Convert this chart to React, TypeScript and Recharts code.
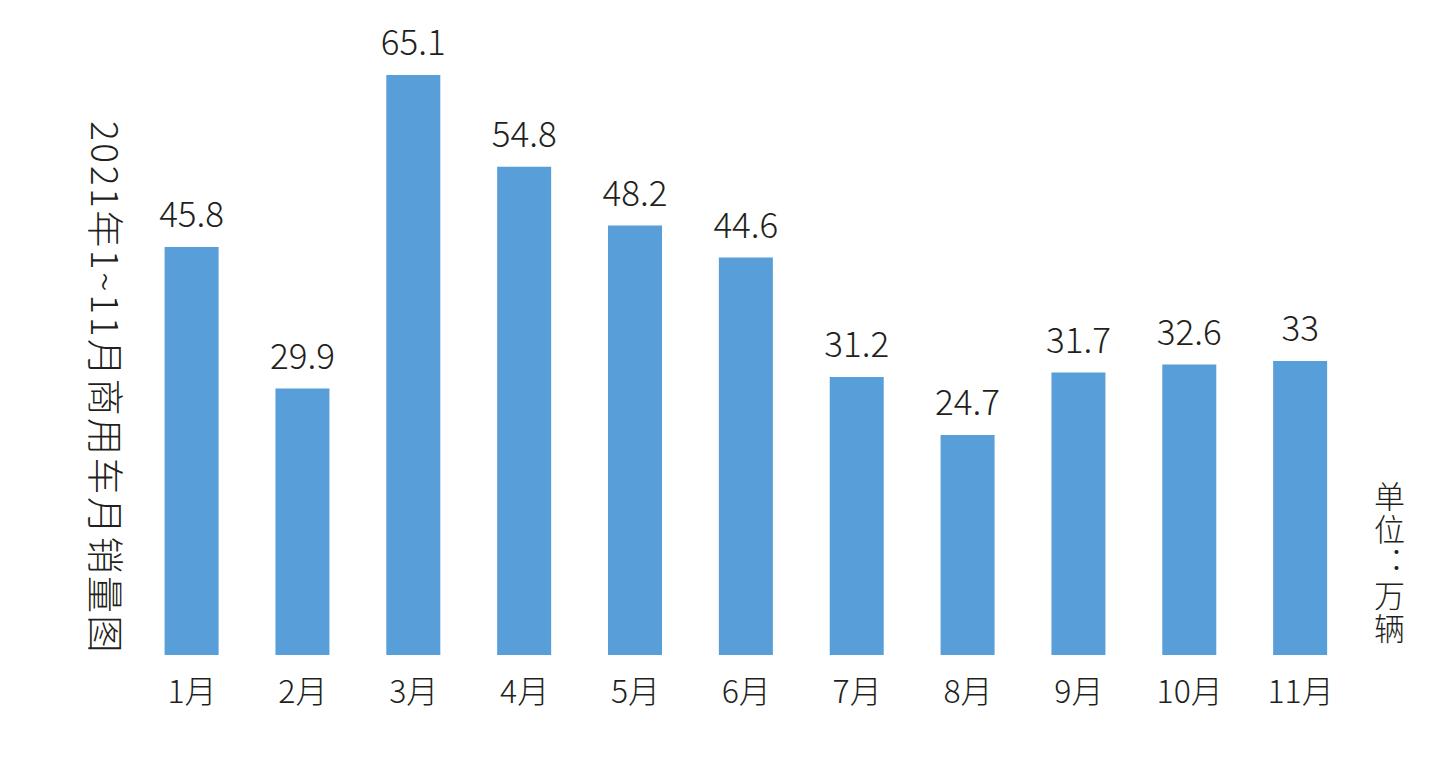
import React from 'react';
import { BarChart, Bar, XAxis, YAxis, LabelList } from 'recharts';

const months = ['1月', '2月', '3月', '4月', '5月', '6月', '7月', '8月', '9月', '10月', '11月'];
const sales = [45.8, 29.9, 65.1, 54.8, 48.2, 44.6, 31.2, 24.7, 31.7, 32.6, 33];
const title = '2021年1~11月商用车月销量图';
const unitText = '单位：万辆';

const data = months.map((m, i) => ({ month: m, value: sales[i] }));

const FONT = '"Noto Sans CJK SC", "Noto Sans", sans-serif';
const TEXT = '#231f20';

export default function App() {
  return (
    <div style={{ position: 'absolute', left: 0, top: 0, width: 1431, height: 762, background: '#fff', fontFamily: FONT }}>
      <BarChart
        width={1431}
        height={762}
        data={data}
        margin={{ top: 31.3, right: 75, bottom: 0, left: 136.6 }}
        barCategoryGap={0}
      >
        <XAxis
          dataKey="month"
          axisLine={false}
          tickLine={false}
          tickSize={0}
          tickMargin={25}
          height={107}
          interval={0}
          tick={{ fontSize: 32, fill: TEXT, fontFamily: FONT, fontWeight: 300 }}
        />
        <YAxis hide domain={[0, 70]} />
        <Bar dataKey="value" fill="#589ed9" barSize={54} isAnimationActive={false}>
          <LabelList
            dataKey="value"
            position="top"
            offset={20}
            style={{ fontSize: 35, fill: TEXT, fontFamily: FONT, fontWeight: 300 }}
          />
        </Bar>
      </BarChart>
      <div
        style={{
          position: 'absolute',
          left: 106,
          top: 388,
          transform: 'translate(-50%, -50%) rotate(90deg)',
          whiteSpace: 'nowrap',
          fontSize: 37,
          letterSpacing: 2.5,
          color: TEXT,
          fontWeight: 300,
          lineHeight: 1,
        }}
      >
        {title}
      </div>
      <div
        style={{
          position: 'absolute',
          left: 1372,
          top: 481,
          writingMode: 'vertical-rl',
          textOrientation: 'upright',
          fontSize: 31,
          letterSpacing: 2,
          lineHeight: '34px',
          color: TEXT,
          fontWeight: 300,
          whiteSpace: 'nowrap',
        }}
      >
        {unitText}
      </div>
    </div>
  );
}
